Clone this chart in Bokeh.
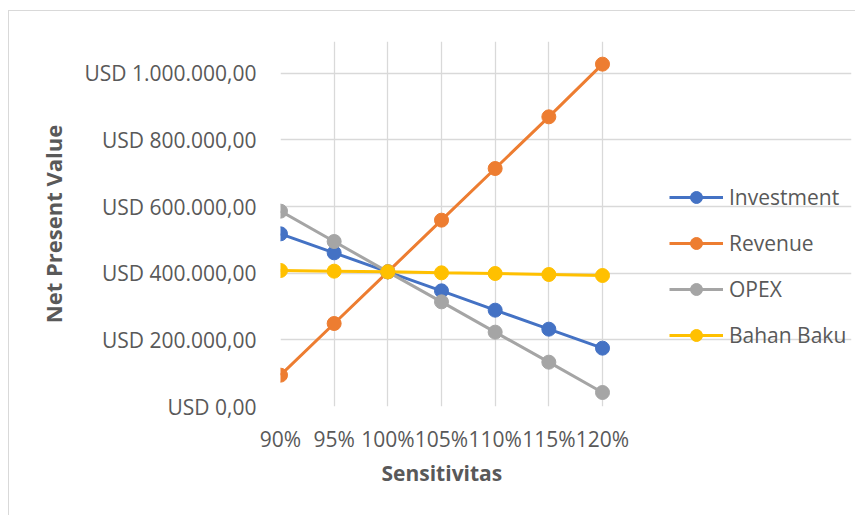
from bokeh.plotting import figure
from bokeh.models import FixedTicker, Legend, LegendItem, Title
from bokeh.embed import file_html
from bokeh.resources import INLINE

categories = ["90%", "95%", "100%", "105%", "110%", "115%", "120%"]
investment = [518000, 461000, 404000, 347000, 289000, 232000, 175000]
revenue = [94000, 249000, 404000, 559000, 714000, 869000, 1027000]
opex = [586000, 495000, 404000, 314000, 223000, 133000, 42000]
bahan_baku = [408000, 406000, 404000, 401000, 399000, 396000, 393000]
y_ticks = [0, 200000, 400000, 600000, 800000, 1000000]
y_tick_labels = ["USD 0,00", "USD 200.000,00", "USD 400.000,00", "USD 600.000,00",
                 "USD 800.000,00", "USD 1.000.000,00"]

series = [("Investment", investment, "#4472C4"),
          ("Revenue", revenue, "#ED7D31"),
          ("OPEX", opex, "#A5A5A5"),
          ("Bahan Baku", bahan_baku, "#FFC000")]

FONT = "Open Sans"
TXT = "#595959"

# layout (pixels)
W, H = 847, 505
LEFT, RIGHT, TOP, BOTTOM = 271, 5, 30, 110
DATA_W = 322  # width of the category span inside the frame
frame_w = W - LEFT - RIGHT
n = len(categories)
x_end = (n - 1) * frame_w / DATA_W

p = figure(width=W, height=H, output_backend="svg", toolbar_location=None,
           x_range=(0, x_end), y_range=(0, 1095000),
           min_border_left=LEFT, min_border_right=RIGHT, min_border_top=TOP, min_border_bottom=BOTTOM)
p.margin = (10, 0, 0, 8)
p.styles = {"border-left": "1px solid #d9d9d9", "border-top": "1px solid #d9d9d9"}
p.outline_line_color = None
p.background_fill_color = "white"

xs = list(range(n))
items = []
for name, vals, col in series:
    r1 = p.line(xs, vals, line_color=col, line_width=3)
    r2 = p.scatter(xs, vals, size=14, fill_color=col, line_color=col)
    items.append(LegendItem(label=name, renderers=[r1, r2]))

p.xaxis.ticker = FixedTicker(ticks=xs)
p.xaxis.major_label_overrides = {i: c for i, c in enumerate(categories)}
p.yaxis.ticker = FixedTicker(ticks=y_ticks)
p.yaxis.major_label_overrides = {t: l for t, l in zip(y_ticks, y_tick_labels)}

for ax in (p.xaxis[0], p.yaxis[0]):
    ax.axis_line_color = None
    ax.major_tick_line_color = None
    ax.minor_tick_line_color = None
    ax.major_label_text_font = FONT
    ax.major_label_text_font_size = "21px"
    ax.major_label_text_color = TXT
    ax.axis_label_text_font = FONT
    ax.axis_label_text_font_size = "22px"
    ax.axis_label_text_font_style = "bold"
    ax.axis_label_text_color = TXT

p.yaxis.axis_label = "Net Present Value"
p.xaxis.major_label_standoff = 12
p.yaxis.major_label_standoff = 18
p.yaxis.axis_label_standoff = 13

xt = Title(text="Sensitivitas", align="left", offset=380 - (8 + LEFT),
           text_font=FONT, text_font_size="21px", text_font_style="bold",
           text_color=TXT, standoff=3)
p.add_layout(xt, "below")

p.xgrid.grid_line_color = "#d9d9d9"
p.ygrid.grid_line_color = "#d9d9d9"
p.xgrid.grid_line_width = 1.3
p.ygrid.grid_line_width = 1.3
p.ygrid.bounds = (0, n - 1)

legend = Legend(items=items, location=(389, 56), orientation="vertical")
legend.glyph_width = 54
legend.glyph_height = 30
legend.label_height = 30
legend.spacing = 16
legend.padding = 0
legend.margin = 0
legend.label_standoff = 6
legend.border_line_color = None
legend.background_fill_alpha = 0
legend.label_text_font = FONT
legend.label_text_font_size = "21px"
legend.label_text_color = TXT
p.add_layout(legend)

open("out.html", "w").write(file_html(p, INLINE))
